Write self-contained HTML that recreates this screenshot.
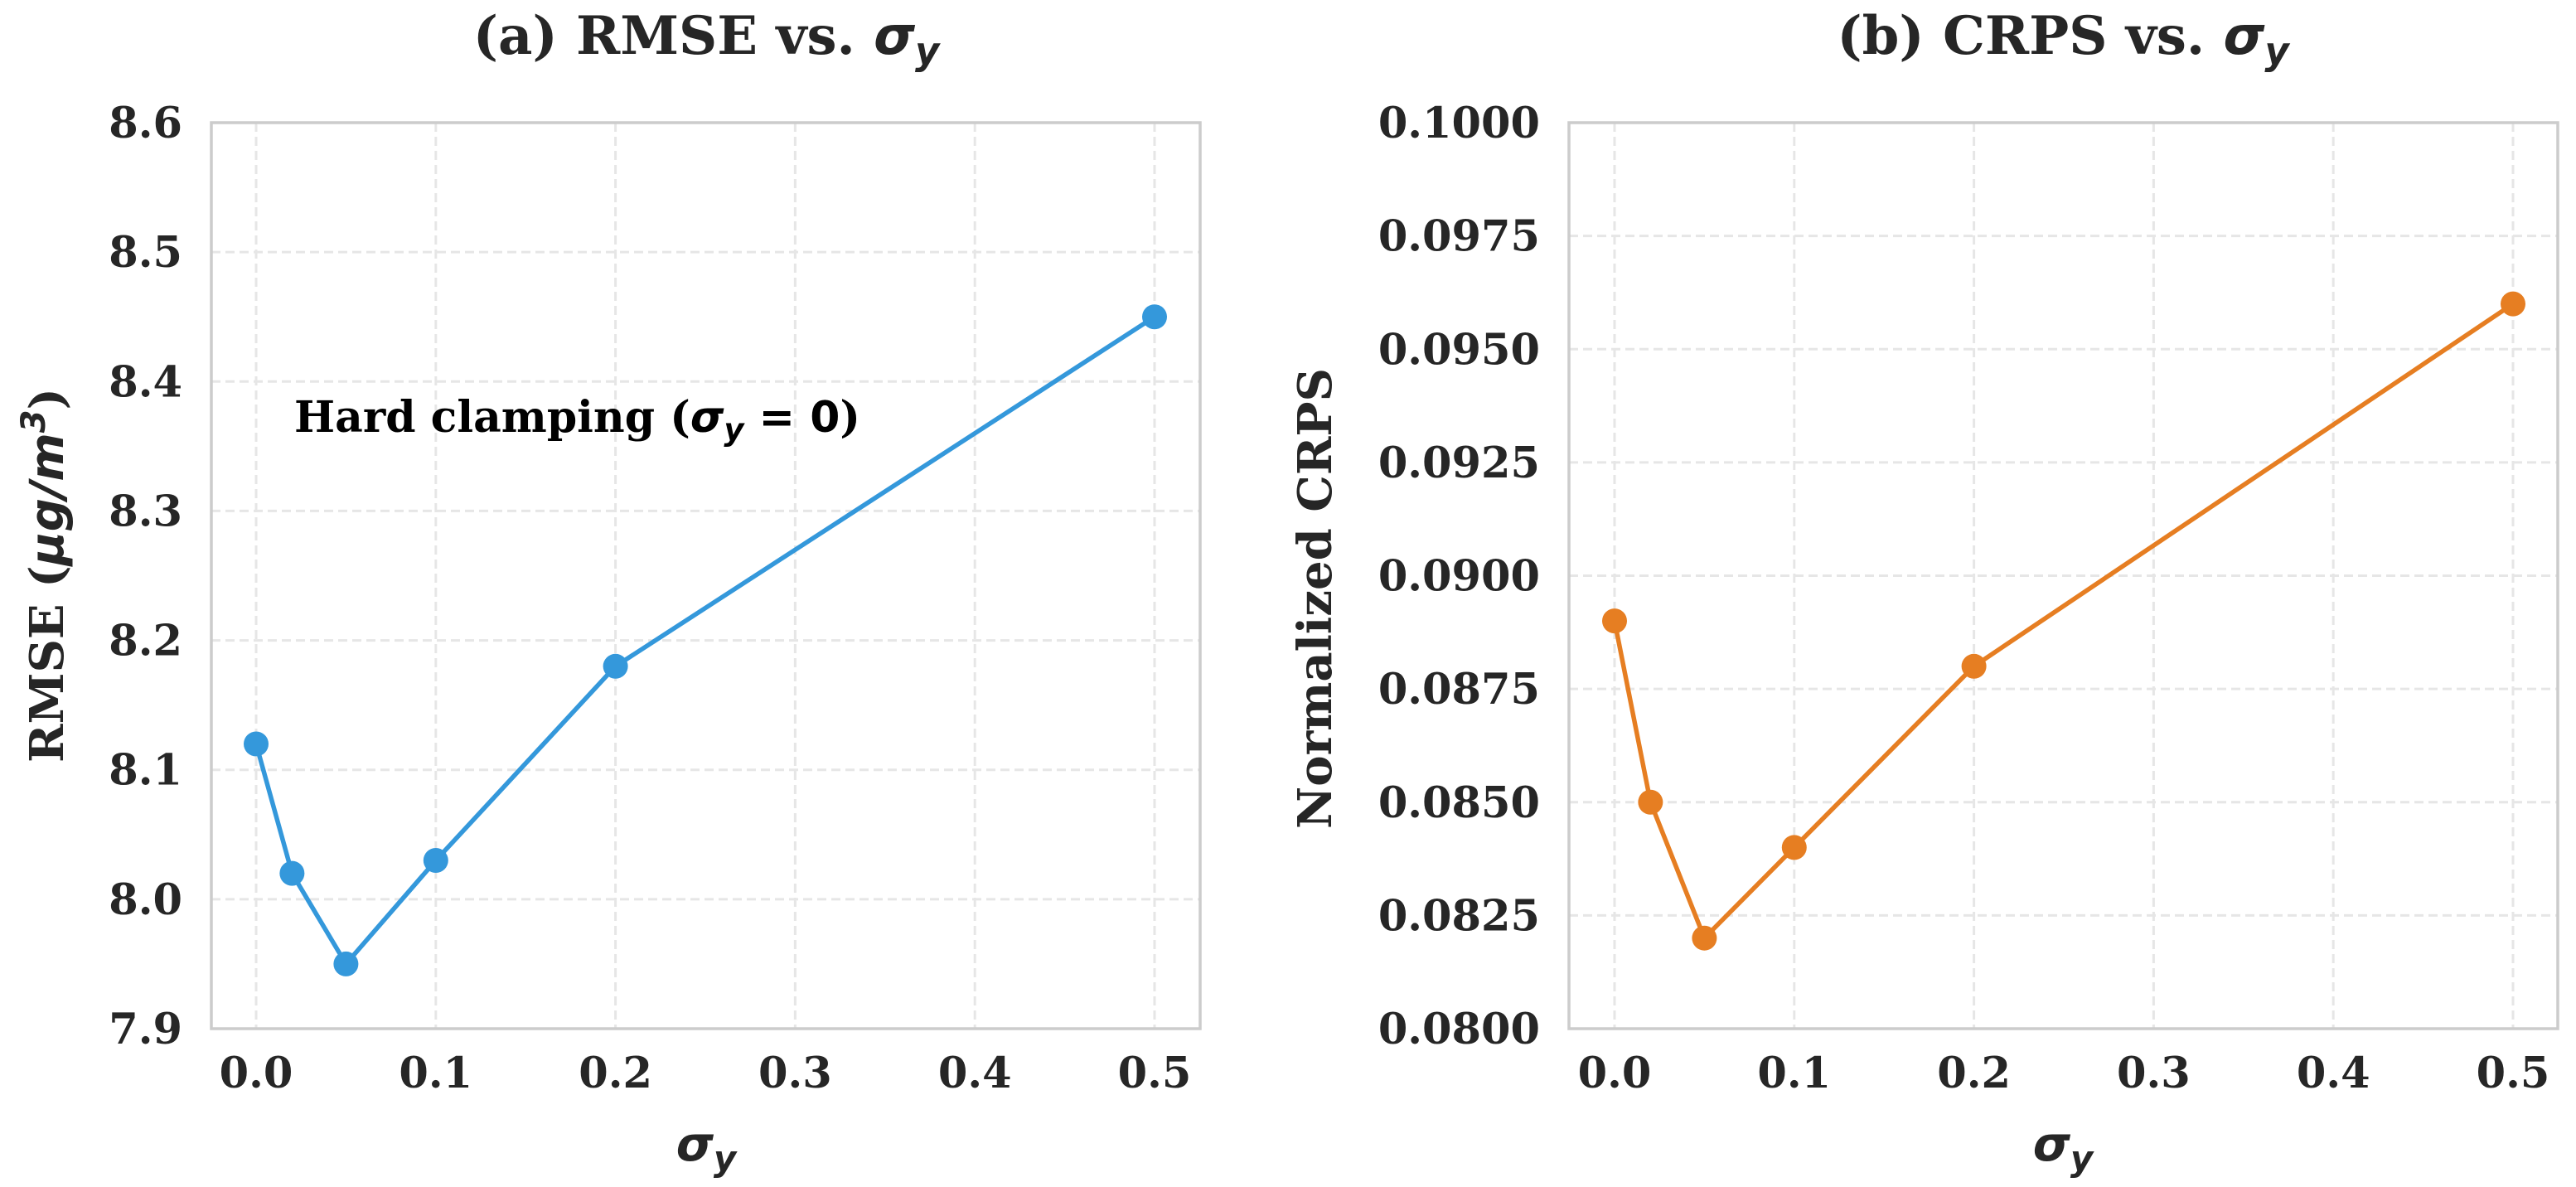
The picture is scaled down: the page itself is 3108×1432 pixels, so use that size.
<!DOCTYPE html>
<html><head><meta charset="utf-8"><style>
html,body{margin:0;padding:0;background:#fff;}
svg{display:block;}
text{font-family:"DejaVu Serif","Liberation Serif",serif;font-weight:bold;fill:#262626;}
.m{font-family:"DejaVu Sans","Liberation Sans",sans-serif;font-style:italic;font-weight:bold;}
.u{font-family:"DejaVu Sans","Liberation Sans",sans-serif;font-weight:bold;}
</style></head><body>
<svg id="fig" width="3108" height="1432" viewBox="0 0 3108 1432" xmlns="http://www.w3.org/2000/svg">
<rect width="3108" height="1432" fill="#fff"/>
<g id="pa"></g>
<g id="pb"></g>
<text x="852" y="65" font-size="64" text-anchor="middle">(a) RMSE vs. <tspan class="m">σ</tspan><tspan class="m" font-size="45" dy="12">y</tspan></text>
<text x="2489" y="65" font-size="64" text-anchor="middle">(b) CRPS vs. <tspan class="m">σ</tspan><tspan class="m" font-size="45" dy="12">y</tspan></text>
<text x="852" y="1400" font-size="58" text-anchor="middle"><tspan class="m">σ</tspan><tspan class="m" font-size="42" dy="12">y</tspan></text>
<text x="2489" y="1400" font-size="58" text-anchor="middle"><tspan class="m">σ</tspan><tspan class="m" font-size="42" dy="12">y</tspan></text>
<text transform="translate(76,694) rotate(-90)" font-size="56" text-anchor="middle">RMSE (<tspan class="m">μg/m</tspan><tspan class="m" font-size="40" dy="-22">3</tspan><tspan dy="22">)</tspan></text>
<text transform="translate(1606,722) rotate(-90)" font-size="56" text-anchor="middle">Normalized CRPS</text>
<text x="355" y="521" font-size="52" style="fill:#000">Hard clamping (<tspan class="m" style="fill:#000">σ</tspan><tspan class="m" font-size="37" dy="10" style="fill:#000">y</tspan><tspan dy="-10" class="u" style="fill:#000"> = 0</tspan>)</text>
</svg>
<script>
const xValues = [0, 0.02, 0.05, 0.1, 0.2, 0.5];
const rmseValues = [8.12, 8.02, 7.95, 8.03, 8.18, 8.45];
const crpsValues = [0.089, 0.085, 0.082, 0.084, 0.088, 0.096];
const xTicks = [0, 0.1, 0.2, 0.3, 0.4, 0.5];
const xTickLabels = ["0.0","0.1","0.2","0.3","0.4","0.5"];
const rmseTicks = [7.9, 8.0, 8.1, 8.2, 8.3, 8.4, 8.5, 8.6];
const rmseTickLabels = ["7.9","8.0","8.1","8.2","8.3","8.4","8.5","8.6"];
const crpsTicks = [0.08, 0.0825, 0.085, 0.0875, 0.09, 0.0925, 0.095, 0.0975, 0.1];
const crpsTickLabels = ["0.0800","0.0825","0.0850","0.0875","0.0900","0.0925","0.0950","0.0975","0.1000"];
const NS = "http://www.w3.org/2000/svg";
function mk(tag, attrs, parent){const e=document.createElementNS(NS,tag);for(const k in attrs)e.setAttribute(k,attrs[k]);parent.appendChild(e);return e;}
function panel(g, left, right, x0px, ys, yTicks, yLabels, yMin, yMax, color, prefix){
  const top=148, bottom=1241;
  const xs=v=>x0px+v*2168;
  const yScale=v=>bottom-(v-yMin)/(yMax-yMin)*(bottom-top);
  xTicks.forEach((t,i)=>{
    const l=mk('line',{x1:xs(t),x2:xs(t),y1:top,y2:bottom,stroke:'#e6e6e6','stroke-width':3,'stroke-dasharray':'11,6'},g);
    
    
    const tx=mk('text',{x:xs(t),y:1312,'font-size':51,'text-anchor':'middle'},g);
    tx.textContent=xTickLabels[i];
    
    
  });
  yTicks.forEach((t,i)=>{
    const l=mk('line',{x1:left,x2:right,y1:yScale(t),y2:yScale(t),stroke:'#e6e6e6','stroke-width':3,'stroke-dasharray':'11,6'},g);
    
    
    const tx=mk('text',{x:left-35,y:yScale(t)+18,'font-size':51,'text-anchor':'end'},g);
    tx.textContent=yLabels[i];
    
    
  });
  const fr=mk('rect',{x:left,y:top,width:right-left,height:bottom-top,fill:'none',stroke:'#cccccc','stroke-width':3.5},g);
  
  
  const pts=xValues.map((v,i)=>xs(v)+','+yScale(ys[i])).join(' ');
  const pl=mk('polyline',{points:pts,fill:'none',stroke:color,'stroke-width':5.5,'stroke-linejoin':'round'},g);
  
  
  xValues.forEach((v,i)=>{
    const c=mk('circle',{cx:xs(v),cy:yScale(ys[i]),r:15,fill:color},g);
    
    
  });
}
panel(document.getElementById('pa'),255,1448,309,rmseValues,rmseTicks,rmseTickLabels,7.9,8.6,'#3498db','rmse');
panel(document.getElementById('pb'),1893,3086,1948,crpsValues,crpsTicks,crpsTickLabels,0.08,0.1,'#e67e22','crps');
</script>
</body></html>
